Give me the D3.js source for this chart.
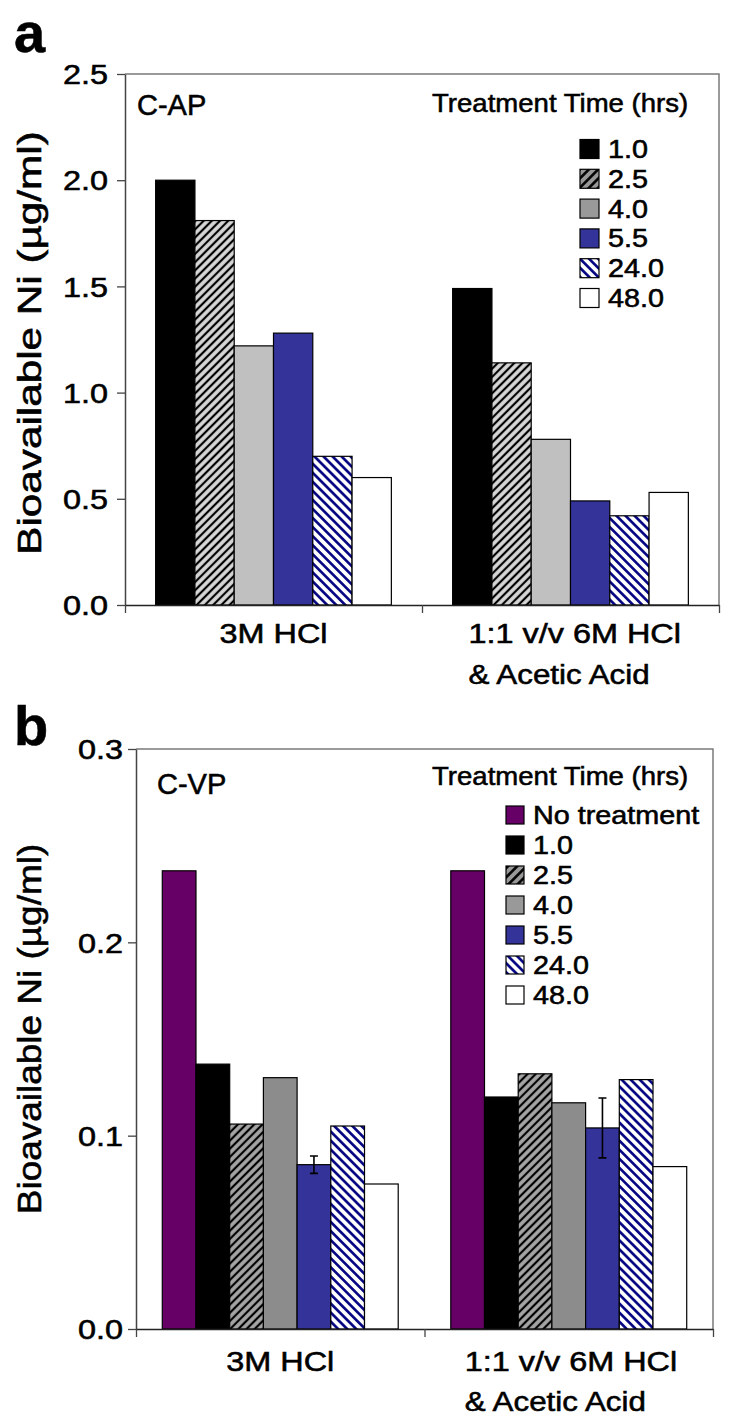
<!DOCTYPE html>
<html><head><meta charset="utf-8">
<script src="https://cdn.jsdelivr.net/npm/d3@7/dist/d3.min.js"></script>
<style>
body{margin:0;background:#fff}
svg{display:block}
text{font-family:"Liberation Sans",Arial,sans-serif;fill:#000;stroke:#000;stroke-width:0.55px}
</style>
</head><body>
<svg id="c" width="750" height="1426"></svg>
<script>
// ---------- data ----------
const categories = ["3M HCl", "1:1 v/v 6M HCl\n& Acetic Acid"];

const seriesA = ["1.0", "2.5", "4.0", "5.5", "24.0", "48.0"];
const valuesA_hcl = [2.00, 1.81, 1.22, 1.28, 0.70, 0.60];
const valuesA_mix = [1.49, 1.14, 0.78, 0.49, 0.42, 0.53];
const ticksA = [0.0, 0.5, 1.0, 1.5, 2.0, 2.5];

const seriesB = ["No treatment", "1.0", "2.5", "4.0", "5.5", "24.0", "48.0"];
const valuesB_hcl = [0.237, 0.137, 0.106, 0.130, 0.085, 0.105, 0.075];
const valuesB_mix = [0.237, 0.120, 0.132, 0.117, 0.104, 0.129, 0.084];
const errorsB_hcl = [0, 0, 0, 0, 0.0045, 0, 0];
const errorsB_mix = [0, 0, 0, 0, 0.0155, 0, 0];
const ticksB = [0.0, 0.1, 0.2, 0.3];

const yTitle = "Bioavailable Ni (\u00b5g/ml)";
const legendTitle = "Treatment Time (hrs)";

// ---------- drawing ----------
const svg = d3.select("#c");
const defs = svg.append("defs");
function hatch(id, bg, fg, angle, size, sw) {
  const p = defs.append("pattern").attr("id", id).attr("patternUnits", "userSpaceOnUse")
    .attr("width", size).attr("height", size).attr("patternTransform", `rotate(${angle})`);
  p.append("rect").attr("width", size).attr("height", size).attr("fill", bg);
  p.append("line").attr("x1", size / 2).attr("x2", size / 2).attr("y1", -1).attr("y2", size + 1)
    .attr("stroke", fg).attr("stroke-width", sw);
}
hatch("hA", "#d8d8d8", "#000", 45, 5.8, 2.2);
hatch("hB", "#a6a6a6", "#000", 45, 5.8, 2.2);
hatch("hL", "#999", "#000", 45, 6.5, 2.6);
hatch("nA", "#fff", "#000080", -45, 6.4, 2.6);

function stretch(sel, f) {
  sel.each(function () {
    const w = this.getComputedTextLength();
    d3.select(this).attr("textLength", w * f).attr("lengthAdjust", "spacingAndGlyphs");
  });
}

function drawPanel(cfg) {
  const g = svg.append("g");
  const x0 = d3.scaleBand().domain(categories).range([cfg.left, cfg.right]);
  const x1 = d3.scaleBand().domain(cfg.series).range([0, x0.bandwidth()]).paddingOuter(0.78);
  const y = d3.scaleLinear().domain([0, cfg.yMax]).range([cfg.bottom, cfg.top]);

  // frame (top + right)
  g.append("path").attr("d", `M${cfg.left},${cfg.top}H${cfg.right}V${cfg.bottom}`)
    .attr("fill", "none").attr("stroke", "#7a7a7a").attr("stroke-width", 1.5);

  // bars
  const rows = categories.map((c, i) => ({ c, vals: cfg.values[i], errs: cfg.errors ? cfg.errors[i] : null }));
  rows.forEach(r => {
    const gg = g.append("g").attr("transform", `translate(${x0(r.c)},0)`);
    const items = cfg.series.map((s, k) => ({ s, v: r.vals[k], e: r.errs ? r.errs[k] : 0 }));
    gg.selectAll("rect").data(items)
      .join("rect")
      .attr("x", d => x1(d.s)).attr("width", x1.bandwidth())
      .attr("y", d => y(d.v)).attr("height", d => y(0) - y(d.v))
      .attr("fill", d => cfg.fills[d.s]).attr("stroke", "#000").attr("stroke-width", 1.2);
    items.filter(d => d.e > 0).forEach(d => {
      const cx = x1(d.s) + x1.bandwidth() / 2;
      gg.append("path")
        .attr("d", `M${cx},${y(d.v + d.e)}V${y(d.v - d.e)}M${cx - 4},${y(d.v + d.e)}H${cx + 4}M${cx - 4},${y(d.v - d.e)}H${cx + 4}`)
        .attr("stroke", "#000").attr("stroke-width", 1.6).attr("fill", "none");
    });
  });

  // y axis
  const ya = g.append("g").attr("transform", `translate(${cfg.left},0)`)
    .call(d3.axisLeft(y).tickValues(cfg.ticks).tickFormat(d3.format(".1f")).tickSize(8).tickPadding(cfg.tickPad).tickSizeOuter(0));
  ya.select(".domain").attr("stroke", "#444").attr("stroke-width", 1.5);
  ya.selectAll(".tick line").attr("stroke", "#444").attr("stroke-width", 1.3);
  ya.selectAll(".tick text").attr("font-size", 27).attr("font-family", "Liberation Sans, Arial, sans-serif")
    .attr("fill", "#000").attr("dy", "0.36em").call(stretch, 1.2);

  // x axis (ticks at category boundaries)
  const xb = d3.scaleLinear().domain([0, categories.length]).range([cfg.left, cfg.right]);
  const xa = g.append("g").attr("transform", `translate(0,${cfg.bottom})`)
    .call(d3.axisBottom(xb).tickValues(d3.range(categories.length + 1)).tickFormat("").tickSize(8).tickSizeOuter(0));
  xa.select(".domain").attr("stroke", "#222").attr("stroke-width", 1.5);
  xa.selectAll(".tick line").attr("stroke", "#444").attr("stroke-width", 1.3);

  // category labels
  categories.forEach(c => {
    const lines = c.split("\n");
    const cx = x0(c) + x0.bandwidth() / 2;
    lines.forEach((ln, i) => {
      const t = g.append("text").attr("font-size", 27).text(ln)
        .attr("y", cfg.catBase + i * cfg.catLine);
      if (lines.length === 1) t.attr("x", cx).attr("text-anchor", "middle");
      else t.attr("x", cx - cfg.catShift).attr("text-anchor", "start");
      t.call(stretch, i === 0 ? 1.2 : 1.16);
    });
  });

  // y title
  g.append("text").attr("transform", `translate(${cfg.titleX},${cfg.titleY}) rotate(-90)`)
    .attr("text-anchor", "middle").attr("font-size", 33).text(yTitle).call(stretch, cfg.titleStretch);

  // panel letter
  g.append("text").attr("x", 14).attr("y", cfg.letterY).attr("font-size", 56).attr("font-weight", "bold").text(cfg.letter);

  // inner label
  g.append("text").attr("x", cfg.innerX).attr("y", cfg.innerY).attr("font-size", 29).text(cfg.inner);

  // legend
  g.append("text").attr("x", 432).attr("y", cfg.legTitleY).attr("font-size", 26).text(legendTitle).call(stretch, 1.06);
  const lg = g.append("g");
  cfg.series.forEach((s, i) => {
    const cy = cfg.legY0 + i * cfg.legStep;
    lg.append("rect").attr("x", cfg.swX).attr("y", cy - cfg.sw / 2).attr("width", cfg.sw).attr("height", cfg.sw)
      .attr("fill", cfg.legFills[s]).attr("stroke", "#000").attr("stroke-width", 1.2);
    lg.append("text").attr("x", cfg.swX + cfg.sw + 9).attr("y", cy).attr("dy", "0.36em")
      .attr("font-size", 25).text(s).call(stretch, 1.15);
  });
}

drawPanel({
  letter: "a", letterY: 52, inner: "C-AP", innerX: 137, innerY: 115,
  left: 125, right: 719, top: 74, bottom: 605, yMax: 2.5, ticks: ticksA, tickPad: 9,
  series: seriesA, values: [valuesA_hcl, valuesA_mix], errors: null,
  fills: { "1.0": "#000", "2.5": "url(#hA)", "4.0": "#c0c0c0", "5.5": "#333399", "24.0": "url(#nA)", "48.0": "#fff" },
  legFills: { "1.0": "#000", "2.5": "url(#hL)", "4.0": "#999", "5.5": "#333399", "24.0": "url(#nA)", "48.0": "#fff" },
  catBase: 643, catLine: 41, catShift: 102,
  titleX: 41, titleY: 343, titleStretch: 1.28,
  legTitleY: 112, legY0: 149, legStep: 29.8, swX: 580, sw: 19
});

drawPanel({
  letter: "b", letterY: 745, inner: "C-VP", innerX: 157, innerY: 794,
  left: 136, right: 713, top: 749, bottom: 1329, yMax: 0.3, ticks: ticksB, tickPad: 5,
  series: seriesB, values: [valuesB_hcl, valuesB_mix], errors: [errorsB_hcl, errorsB_mix],
  fills: { "No treatment": "#660066", "1.0": "#000", "2.5": "url(#hB)", "4.0": "#8c8c8c", "5.5": "#333399", "24.0": "url(#nA)", "48.0": "#fff" },
  legFills: { "No treatment": "#660066", "1.0": "#000", "2.5": "url(#hL)", "4.0": "#999", "5.5": "#333399", "24.0": "url(#nA)", "48.0": "#fff" },
  catBase: 1371, catLine: 40, catShift: 104,
  titleX: 41, titleY: 1029, titleStretch: 1.12,
  legTitleY: 785, legY0: 815, legStep: 30, swX: 506, sw: 18
});
</script>
</body></html>
